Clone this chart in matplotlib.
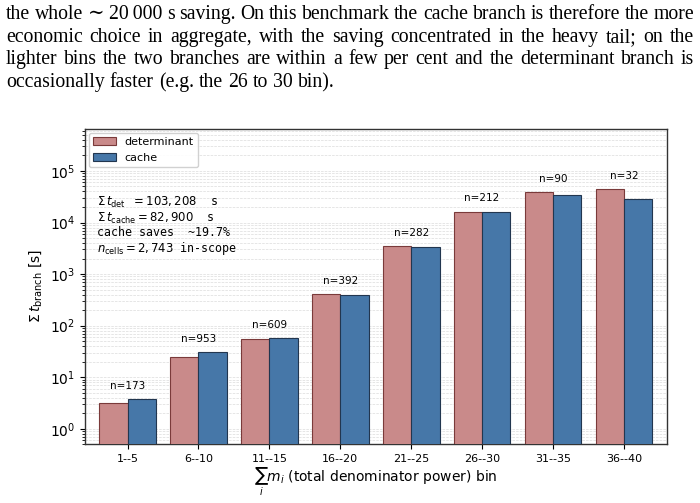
import matplotlib
matplotlib.use("Agg")
import matplotlib.pyplot as plt
import numpy as np

# ---- data ----
bins = ["1--5", "6--10", "11--15", "16--20", "21--25", "26--30", "31--35", "36--40"]
t_det = [3.2, 24.7, 55, 414, 3510, 16200, 39000, 44000]
t_cache = [3.8, 30.8, 57.6, 396, 3360, 16300, 34500, 28250]
n_cells = [173, 953, 609, 392, 282, 212, 90, 32]

paragraph = [
    "the whole \u223c 20\u2009000 s saving. On this benchmark the cache branch is therefore the more",
    "economic choice in aggregate, with the saving concentrated in the heavy tail; on the",
    "lighter bins the two branches are within a few per cent and the determinant branch is",
    "occasionally faster (e.g. the 26 to 30 bin).",
]

W, H = 700, 503
fig = plt.figure(figsize=(7.0, 5.03), dpi=100)

# ---- justified paragraph text ----
renderer = fig.canvas.get_renderer()
serif = ["Liberation Serif", "DejaVu Serif"]
x_left, x_right = 6, 694
baselines = [19, 42, 64, 87]

def word_width(w, fs):
    t = fig.text(0, 0, w, fontsize=fs, family=serif)
    bb = t.get_window_extent(renderer)
    t.remove()
    return bb.width

# pick the largest font size whose justified lines keep a sensible gap
fs = 16.0
while fs > 9:
    sp = word_width("a a", fs) - word_width("aa", fs)
    ok = True
    for line in paragraph[:-1]:
        words = line.split(" ")
        tot = sum(word_width(w, fs) for w in words)
        gap = (x_right - x_left - tot) / (len(words) - 1)
        if gap < 0.9 * sp:
            ok = False
            break
    if ok:
        break
    fs -= 0.2

space_w = word_width("a a", fs) - word_width("aa", fs)
for li, line in enumerate(paragraph):
    words = line.split(" ")
    widths = [word_width(w, fs) for w in words]
    if li < len(paragraph) - 1 and len(words) > 1:
        gap = (x_right - x_left - sum(widths)) / (len(words) - 1)
    else:
        gap = space_w
    xx = x_left
    for w, wd in zip(words, widths):
        fig.text(xx / W, 1 - baselines[li] / H, w, fontsize=fs, family=serif,
                 va="baseline", ha="left")
        xx += wd + gap

# ---- chart ----
ax = fig.add_axes([85 / W, 1 - 444.3 / H, (666.5 - 85) / W, (444.3 - 128.7) / H])
x = np.arange(len(bins))
bw = 0.4
ax.bar(x - bw / 2, t_det, width=bw, color="#C98A8A", edgecolor="#7A3A3A",
       linewidth=0.8, label="determinant", zorder=3)
ax.bar(x + bw / 2, t_cache, width=bw, color="#4677A8", edgecolor="#22364F",
       linewidth=0.8, label="cache", zorder=3)

ax.set_yscale("log")
ax.set_ylim(0.5, max(t_det) * 15)
ax.set_xlim(-0.6, len(bins) - 0.4)
ax.set_xticks(x)
ax.set_xticklabels(bins, fontsize=8)
ax.tick_params(axis="y", labelsize=10)
ax.yaxis.grid(True, which="both", linestyle="--", color="#dcdcdc", linewidth=0.5, zorder=0)
ax.set_axisbelow(True)

for i, n in enumerate(n_cells):
    ax.text(x[i], max(t_det[i], t_cache[i]) * 1.45, f"n={n}", ha="center",
            va="bottom", fontsize=7.5)

ax.set_ylabel(r"$\Sigma\, t_{\rm branch}$ [s]", fontsize=10)
ax.set_xlabel(r"$\sum_i m_i$ (total denominator power) bin", fontsize=10, labelpad=1)

ax.legend(loc="upper left", fontsize=8, framealpha=0.9, borderaxespad=0.35,
          handlelength=2.0)

ann = (r"$\Sigma\,t_{\rm det}$ $= 103,208$  s" "\n"
       r"$\Sigma\,t_{\rm cache} = 82,900$  s" "\n"
       "cache saves  ~19.7%\n"
       r"$n_{\rm cells} = 2,743$ in-scope")
ax.text(0.021, 0.79, ann, transform=ax.transAxes, family="monospace",
        fontsize=8.4, va="top", ha="left", linespacing=1.05)

for s in ax.spines.values():
    s.set_color("#333333")
    s.set_linewidth(1.0)

fig.savefig("out.png", dpi=100)
